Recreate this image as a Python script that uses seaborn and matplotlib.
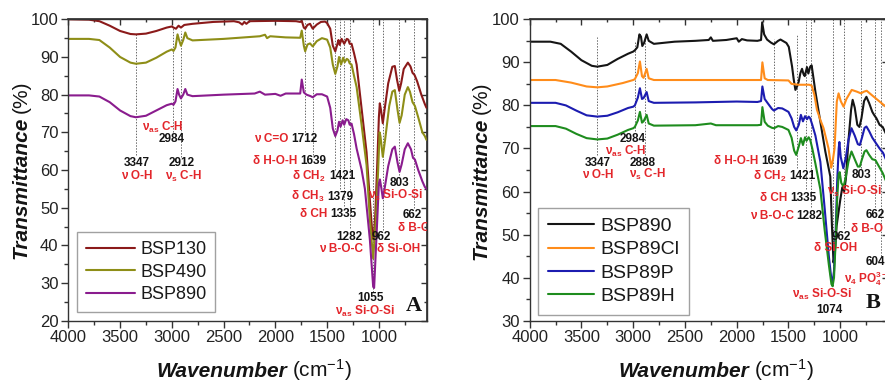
import matplotlib
matplotlib.use("Agg")
import matplotlib.pyplot as plt
import pandas as pd
import seaborn as sns

# ---------------- data ----------------
# Panel A  (wavenumber cm-1, transmittance %)
a_names = ["BSP130", "BSP490", "BSP890"]
a_colors = ["#8B1A1A", "#8E8E17", "#8A1C8E"]

a_bsp130 = [(4000,100.0),(3800,99.9),(3700,99.5),(3600,98.3),(3500,96.9),(3400,96.1),(3347,96.0),(3250,96.2),
            (3150,96.9),(3050,97.8),(3000,98.1),(2984,97.8),(2960,97.5),(2935,98.3),(2912,97.8),(2880,98.5),
            (2800,98.8),(2600,99.3),(2400,99.5),(2350,99.2),(2320,98.6),(2300,99.3),(2280,98.8),(2250,99.5),
            (2000,99.6),(1800,99.5),(1760,99.3),(1745,99.6),(1725,97.8),(1712,97.5),(1690,98.5),(1665,98.8),
            (1639,97.5),(1600,98.6),(1560,99.3),(1520,99.4),(1500,99.0),(1470,97.5),(1445,93.0),(1421,91.5),
            (1400,93.5),(1390,94.5),(1379,93.2),(1360,94.8),(1335,93.5),(1310,94.8),(1295,94.6),(1282,93.5),
            (1264,93.5),(1240,91.0),(1215,88.0),(1167,76.3),(1119,64.7),(1087,52.0),(1060,42.0),(1050,41.5),
            (1035,48.0),(1015,62.0),(1000,74.0),(991,77.7),(980,76.0),(962,72.4),(945,76.0),(910,83.0),
            (870,87.4),(846,87.6),(825,84.0),(803,81.0),(785,83.0),(760,86.8),(720,88.5),(695,87.5),
            (675,85.8),(655,85.2),(630,83.5),(590,80.0),(556,77.5),(540,76.5)]
a_bsp490 = [(4000,94.8),(3800,94.8),(3700,94.5),(3600,92.5),(3500,90.0),(3400,88.5),(3347,88.2),(3250,88.5),
            (3150,89.8),(3050,91.4),(3000,92.0),(2984,91.6),(2965,92.5),(2945,96.0),(2930,94.5),(2912,93.0),
            (2890,94.5),(2870,96.5),(2850,95.0),(2800,94.4),(2500,94.8),(2300,95.2),(2150,95.5),(2100,95.9),
            (2080,95.0),(2050,95.5),(1900,95.2),(1760,95.1),(1745,97.0),(1725,93.0),(1712,91.5),(1690,93.3),
            (1665,93.6),(1639,92.8),(1600,94.2),(1550,95.0),(1500,94.6),(1470,92.5),(1445,88.0),(1421,85.5),
            (1400,87.5),(1385,90.0),(1365,88.0),(1345,89.8),(1330,88.6),(1310,89.5),(1295,89.2),(1282,88.3),
            (1264,88.0),(1240,85.0),(1215,82.0),(1167,72.0),(1119,61.3),(1087,46.8),(1055,36.5),(1029,46.8),
            (1007,60.0),(993,70.0),(985,69.0),(962,63.5),(940,68.0),(900,77.0),(870,80.8),(846,81.2),
            (820,76.0),(800,72.5),(780,74.5),(750,80.0),(720,82.0),(700,80.8),(675,78.0),(652,77.0),
            (620,74.0),(580,70.0),(556,69.0),(540,68.0)]
a_bsp890 = [(4000,79.8),(3800,79.8),(3700,79.5),(3600,78.0),(3500,75.8),(3400,74.3),(3347,74.0),(3250,74.4),
            (3150,75.8),(3050,77.2),(3000,77.6),(2984,77.3),(2965,78.2),(2945,81.5),(2930,80.0),(2912,79.0),
            (2890,80.0),(2870,81.5),(2850,80.0),(2800,79.6),(2500,80.0),(2200,80.3),(2150,80.8),(2100,80.0),
            (2000,80.2),(1950,79.7),(1900,80.3),(1760,80.3),(1745,84.0),(1725,80.6),(1700,80.0),(1660,79.6),
            (1639,79.3),(1600,80.1),(1550,80.1),(1500,79.5),(1470,76.5),(1445,71.0),(1421,69.0),(1400,70.5),
            (1385,72.8),(1370,71.5),(1350,73.2),(1335,72.0),(1315,73.5),(1295,73.2),(1282,72.0),(1264,72.3),
            (1240,69.5),(1215,65.7),(1167,60.1),(1135,55.0),(1087,41.5),(1055,29.0),(1046,28.7),(1020,44.2),
            (1000,56.4),(990,57.5),(975,55.0),(962,52.5),(945,55.0),(910,61.0),(870,65.5),(846,66.2),
            (820,62.0),(800,59.5),(780,61.5),(750,65.5),(720,67.1),(690,65.5),(670,63.2),(652,62.8),
            (620,60.0),(580,57.0),(556,55.5),(540,55.0)]

# Panel B
b_names = ["BSP890", "BSP89Cl", "BSP89P", "BSP89H"]
b_colors = ["#151515", "#FF8C1A", "#1C1CB0", "#1E8C1E"]

b_bsp890 = [(4000,94.8),(3800,94.8),(3700,94.3),(3600,92.5),(3500,90.5),(3400,89.2),(3347,89.0),(3250,89.4),
            (3150,90.8),(3050,92.0),(3000,92.5),(2984,92.8),(2960,93.5),(2940,96.5),(2925,96.0),(2912,93.8),
            (2895,94.5),(2870,96.5),(2850,95.0),(2800,94.3),(2600,94.8),(2400,95.0),(2270,95.2),(2250,95.8),
            (2230,95.0),(2100,95.2),(2000,95.6),(1980,94.8),(1950,95.4),(1900,95.1),(1800,95.0),(1765,95.2),
            (1754,99.3),(1735,96.5),(1707,95.3),(1670,94.6),(1641,94.2),(1600,95.0),(1577,95.3),(1520,94.5),
            (1497,93.6),(1465,89.0),(1449,86.0),(1433,83.6),(1415,84.5),(1401,85.5),(1385,87.5),(1369,88.5),
            (1355,87.3),(1343,86.8),(1321,88.9),(1308,87.4),(1290,89.0),(1276,89.3),(1240,83.2),(1192,76.2),
            (1144,69.3),(1096,63.5),(1080,52.0),(1065,43.5),(1052,45.5),(1035,52.0),(1000,58.0),(980,61.0),
            (962,60.0),(945,63.0),(920,72.0),(895,79.0),(880,81.3),(860,79.5),(835,75.5),(815,75.0),
            (795,77.0),(770,81.0),(747,82.0),(720,80.5),(690,78.5),(673,77.8),(650,77.0),(620,75.5),
            (590,75.0),(550,73.0)]
b_bsp89cl = [(4000,85.9),(3750,85.9),(3600,85.3),(3450,84.4),(3347,84.2),(3250,84.4),(3100,85.2),(3000,85.9),
             (2984,86.1),(2955,87.5),(2935,90.2),(2915,86.8),(2900,86.4),(2870,88.5),(2850,86.3),(2800,85.9),
             (1765,85.9),(1752,90.0),(1730,86.3),(1700,85.9),(1500,85.8),(1470,85.0),(1400,84.8),(1300,84.8),
             (1276,84.6),(1250,82.5),(1225,79.0),(1190,76.5),(1161,74.7),(1113,70.0),(1087,65.5),(1070,67.5),
             (1055,70.0),(1033,80.9),(1016,82.8),(995,81.0),(968,79.7),(940,81.5),(889,83.6),(840,83.2),
             (800,82.8),(770,83.2),(744,83.4),(700,82.5),(650,81.5),(600,80.5),(550,79.5)]
b_bsp89p = [(4000,80.6),(3750,80.6),(3650,80.0),(3550,78.8),(3450,77.7),(3347,77.4),(3250,77.6),(3150,78.4),
            (3050,79.4),(3000,79.7),(2984,80.0),(2955,81.8),(2935,84.0),(2915,81.5),(2900,81.7),(2870,83.1),
            (2850,81.0),(2800,80.6),(2400,80.7),(2000,80.9),(1800,80.8),(1765,81.0),(1752,84.4),(1730,81.5),
            (1700,80.5),(1660,79.2),(1641,78.8),(1600,79.4),(1560,79.3),(1500,78.5),(1470,77.0),(1445,75.0),
            (1425,74.2),(1400,75.5),(1380,77.8),(1360,76.3),(1340,77.5),(1320,76.8),(1305,77.4),(1290,77.0),
            (1270,75.5),(1240,73.0),(1192,66.9),(1150,56.0),(1110,45.0),(1085,39.5),(1074,39.0),(1060,41.5),
            (1045,50.0),(1030,62.0),(1015,70.0),(1008,71.5),(995,68.0),(970,65.4),(945,68.0),(920,72.0),
            (891,74.7),(860,73.0),(830,71.0),(811,70.8),(790,72.5),(765,74.8),(747,75.1),(720,74.0),
            (690,72.5),(654,71.2),(620,70.0),(587,69.0),(550,67.0)]
b_bsp89h = [(4000,75.2),(3750,75.2),(3650,74.6),(3550,73.4),(3450,72.4),(3347,72.1),(3250,72.3),(3150,73.2),
            (3050,74.3),(3000,74.7),(2984,75.0),(2955,76.5),(2935,78.5),(2915,76.0),(2900,76.3),(2870,77.8),
            (2850,75.8),(2800,75.3),(2400,75.4),(2250,75.8),(2200,75.4),(1800,75.4),(1765,75.5),(1752,79.6),
            (1730,76.2),(1700,75.3),(1660,74.8),(1639,74.7),(1600,75.2),(1560,75.0),(1500,74.3),(1470,72.5),
            (1445,69.5),(1425,68.5),(1400,70.5),(1380,72.4),(1360,70.8),(1340,72.6),(1325,71.8),(1305,72.6),
            (1290,72.0),(1270,70.0),(1240,66.5),(1192,60.5),(1150,51.0),(1110,43.0),(1085,38.5),(1074,38.0),
            (1060,40.0),(1045,48.0),(1030,58.0),(1015,64.0),(1005,64.5),(990,62.0),(968,61.1),(945,63.5),
            (920,67.0),(891,69.3),(860,67.5),(830,65.8),(811,65.8),(790,67.5),(765,69.3),(747,69.6),
            (720,68.5),(690,67.5),(660,67.3),(630,66.0),(590,64.3),(550,62.0)]

x_major = [4000, 3500, 3000, 2500, 2000, 1500, 1000]
x_minor = [3750, 3250, 2750, 2250, 1750, 1250, 750]
a_y_major = [20, 30, 40, 50, 60, 70, 80, 90, 100]
a_y_minor = [25, 35, 45, 55, 65, 75, 85, 95]
b_y_major = [30, 40, 50, 60, 70, 80, 90, 100]
b_y_minor = [35, 45, 55, 65, 75, 85, 95]

# ---------------- style ----------------
sns.set_theme(style="ticks")
plt.rcParams["font.family"] = ["Liberation Sans", "DejaVu Sans"]
plt.rcParams["mathtext.fontset"] = "custom"
plt.rcParams["mathtext.rm"] = "Liberation Sans"
plt.rcParams["mathtext.it"] = "Liberation Sans:italic"
plt.rcParams["mathtext.bf"] = "Liberation Sans:bold"

RED = "#E3262B"
BLK = "#141414"
SPINE = "#333333"

fig = plt.figure(figsize=(8.85, 3.83), dpi=100)
axA = fig.add_axes([0.0772, 0.1627, 0.4053, 0.7869])
axB = fig.add_axes([0.5985, 0.1627, 0.4053, 0.7869])


def draw(ax, series, names, colors):
    frames = []
    for name, pts in zip(names, series):
        d = pd.DataFrame(pts, columns=["wn", "T"])
        d["sample"] = name
        frames.append(d)
    data = pd.concat(frames, ignore_index=True)
    sns.lineplot(data=data, x="wn", y="T", hue="sample", hue_order=names,
                 palette=colors, sort=False, estimator=None, lw=1.5, ax=ax)


def style_axes(ax, ylim, ymaj, ymin):
    ax.set_xlim(4000, 535)
    ax.set_ylim(*ylim)
    ax.set_xticks(x_major)
    ax.set_xticks(x_minor, minor=True)
    ax.set_yticks(ymaj)
    ax.set_yticks(ymin, minor=True)
    ax.set_xlabel("")
    ax.set_ylabel("")
    for s in ax.spines.values():
        s.set_color(SPINE)
        s.set_linewidth(1.0)
    ax.tick_params(which="major", direction="out", length=5, width=1, color=SPINE,
                   labelsize=12, labelcolor="#222222", pad=2)
    ax.tick_params(which="minor", direction="out", length=3, width=1, color=SPINE)
    sx = ax.secondary_xaxis("top")
    sx.set_xticks(x_major)
    sx.set_xticks(x_minor, minor=True)
    sx.tick_params(which="both", direction="in", labeltop=False, color=SPINE, width=1)
    sx.tick_params(which="major", length=4)
    sx.tick_params(which="minor", length=2)
    sx.spines["top"].set_color(SPINE)
    sy = ax.secondary_yaxis("right")
    sy.set_yticks(ymaj)
    sy.set_yticks(ymin, minor=True)
    sy.tick_params(which="both", direction="in", labelright=False, color=SPINE, width=1)
    sy.tick_params(which="major", length=4)
    sy.tick_params(which="minor", length=2)
    sy.spines["right"].set_color(SPINE)


def legend(ax, names, fs, hl, anchor):
    old = ax.get_legend()
    handles = old.legend_handles
    labels = [t.get_text() for t in old.get_texts()]
    old.remove()
    for h in handles:
        h.set_linewidth(1.5)
    lg = ax.legend(handles, labels, loc="lower left", bbox_to_anchor=anchor,
                   borderaxespad=0, fontsize=fs, handlelength=hl, handletextpad=0.3,
                   labelspacing=0.3, borderpad=0.5, frameon=True, fancybox=False)
    lg.get_frame().set_edgecolor("#8a8a8a")
    lg.get_frame().set_linewidth(1.0)
    for t in lg.get_texts():
        t.set_color("#1a1a1a")


def t(ax, x, y, s, color, ha="center", fs=8.5):
    ax.text(x, y, s, color=color, ha=ha, va="center", fontsize=fs,
            fontweight="bold", clip_on=True, zorder=5)


def pair(ax, x, y, red, num, fs=8.5):
    ax.annotate(red, (x, y), xytext=(-1, 0), textcoords="offset points", ha="right",
                va="center", color=RED, fontsize=fs, fontweight="bold", zorder=5)
    ax.annotate(num, (x, y), xytext=(1, 0), textcoords="offset points", ha="left",
                va="center", color=BLK, fontsize=fs, fontweight="bold", zorder=5)


def vlines(ax, spec):
    for x, y0, y1 in spec:
        ax.vlines(x, y0, y1, colors="#6a6a6a", linestyles=(0, (1.5, 1.5)), lw=0.7, zorder=1)


# ---------------- panel A ----------------
draw(axA, [a_bsp130, a_bsp490, a_bsp890], a_names, a_colors)
style_axes(axA, (20, 100), a_y_major, a_y_minor)
legend(axA, a_names, 13, 2.7, (0.024, 0.029))
vlines(axA, [(3347, 64.0, 96.0), (2984, 70.0, 98.0), (2912, 63.5, 97.0), (1712, 70.0, 99.5),
             (1639, 64.0, 99.5), (1421, 60.0, 100), (1379, 55.0, 100), (1335, 50.5, 100),
             (1282, 44.5, 100), (1055, 27.5, 100), (962, 44.0, 100), (803, 58.0, 100),
             (662, 50.0, 100)])

t(axA, 3340, 61.9, "3347", BLK)
t(axA, 3340, 58.4, "ν O-H", RED)
t(axA, 3087, 71.2, r"$\mathregular{\nu_{as}}$ C-H", RED)
t(axA, 3000, 68.1, "2984", BLK)
t(axA, 2905, 61.9, "2912", BLK)
t(axA, 2892, 58.4, r"$\mathregular{\nu_{s}}$ C-H", RED)
pair(axA, 1859, 68.1, "ν C=O", "1712")
pair(axA, 1772, 62.4, "δ H-O-H", "1639")
pair(axA, 1497, 58.3, r"δ CH$_{\mathregular{2}}$", "1421")
pair(axA, 1512, 52.9, r"δ CH$_{\mathregular{3}}$", "1379")
pair(axA, 1483, 48.4, "δ CH", "1335")
t(axA, 1155, 42.3, "1282", BLK, ha="right")
t(axA, 1155, 39.1, "ν B-O-C", RED, ha="right")
t(axA, 1068, 42.3, "962", BLK, ha="left")
t(axA, 1020, 39.0, "δ Si-OH", RED, ha="left")
t(axA, 895, 56.6, "803", BLK, ha="left")
t(axA, 1106, 53.2, r"$\mathregular{\nu_{s}}$ Si-O-Si", RED, ha="left")
t(axA, 768, 48.0, "662", BLK, ha="left")
t(axA, 817, 44.6, "δ B-O", RED, ha="left")
t(axA, 1077, 26.0, "1055", BLK)
t(axA, 1138, 22.4, r"$\mathregular{\nu_{as}}$ Si-O-Si", RED)
axA.text(667, 23.8, "A", family="Liberation Serif", fontweight="bold", fontsize=16,
         ha="center", va="center", color=BLK)

# ---------------- panel B ----------------
draw(axB, [b_bsp890, b_bsp89cl, b_bsp89p, b_bsp89h], b_names, b_colors)
style_axes(axB, (30, 100), b_y_major, b_y_minor)
legend(axB, b_names, 14, 2.4, (0.023, 0.019))
vlines(axB, [(3347, 68.5, 96.0), (2984, 74.0, 95.0), (2888, 68.5, 96.0), (1639, 69.0, 95.5),
             (1421, 65.5, 96.5), (1335, 60.5, 100), (1282, 56.5, 100), (1074, 38.0, 100),
             (962, 51.5, 100), (803, 65.5, 100), (662, 56.5, 100), (604, 45.0, 100)])

t(axB, 3007, 72.1, "2984", BLK)
t(axB, 3338, 66.7, "3347", BLK)
t(axB, 3069, 69.3, r"$\mathregular{\nu_{as}}$ C-H", RED)
t(axB, 2910, 66.7, "2888", BLK)
t(axB, 3343, 63.8, "ν O-H", RED)
t(axB, 2867, 64.0, r"$\mathregular{\nu_{s}}$ C-H", RED)
pair(axB, 1776, 67.1, "δ H-O-H", "1639")
pair(axB, 1507, 63.5, r"δ CH$_{\mathregular{2}}$", "1421")
pair(axB, 1497, 58.4, "δ CH", "1335")
pair(axB, 1435, 54.2, "ν B-O-C", "1282")
t(axB, 1084, 49.5, "962", BLK, ha="left")
t(axB, 1257, 46.8, "δ Si-OH", RED, ha="left")
t(axB, 892, 63.8, "803", BLK, ha="left")
t(axB, 1131, 60.0, r"$\mathregular{\nu_{s}}$ Si-O-Si", RED, ha="left")
t(axB, 757, 54.6, "662", BLK, ha="left")
t(axB, 892, 51.2, "δ B-O", RED, ha="left")
t(axB, 757, 43.6, "604", BLK, ha="left")
t(axB, 968, 39.7, r"$\mathregular{\nu_{4}}$ PO$_{\mathregular{4}}^{\mathregular{3-}}$", RED, ha="left")
t(axB, 1175, 36.0, r"$\mathregular{\nu_{as}}$ Si-O-Si", RED)
t(axB, 1108, 32.5, "1074", BLK)
axB.text(757, 34.1, "B", family="Liberation Serif", fontweight="bold", fontsize=16,
         ha="left", va="center", color=BLK)

# ---------------- axis titles ----------------
W, H = 885.0, 383.0


def xlabel(px_join, py_base):
    fig.text(px_join / W - 1.5 / W, 1 - py_base / H, "Wavenumber", ha="right", va="baseline",
             fontsize=15, fontweight="bold", fontstyle="italic", color=BLK)
    fig.text(px_join / W + 3.5 / W, 1 - py_base / H, r"(cm$^{\mathregular{-1}}$)", ha="left",
             va="baseline", fontsize=15, color=BLK)


def ylabel(px_base, py_join):
    fig.text(px_base / W, 1 - py_join / H, "Transmittance", rotation=90, rotation_mode="anchor",
             ha="right", va="baseline", fontsize=15, fontweight="bold", fontstyle="italic",
             color=BLK)
    fig.text(px_base / W, 1 - (py_join - 4) / H, "(%)", rotation=90, rotation_mode="anchor",
             ha="left", va="baseline", fontsize=15, color=BLK)


xlabel(289, 377)
xlabel(750.5, 377)
ylabel(27, 117)
ylabel(487, 118)

fig.savefig("out.png", dpi=100)
